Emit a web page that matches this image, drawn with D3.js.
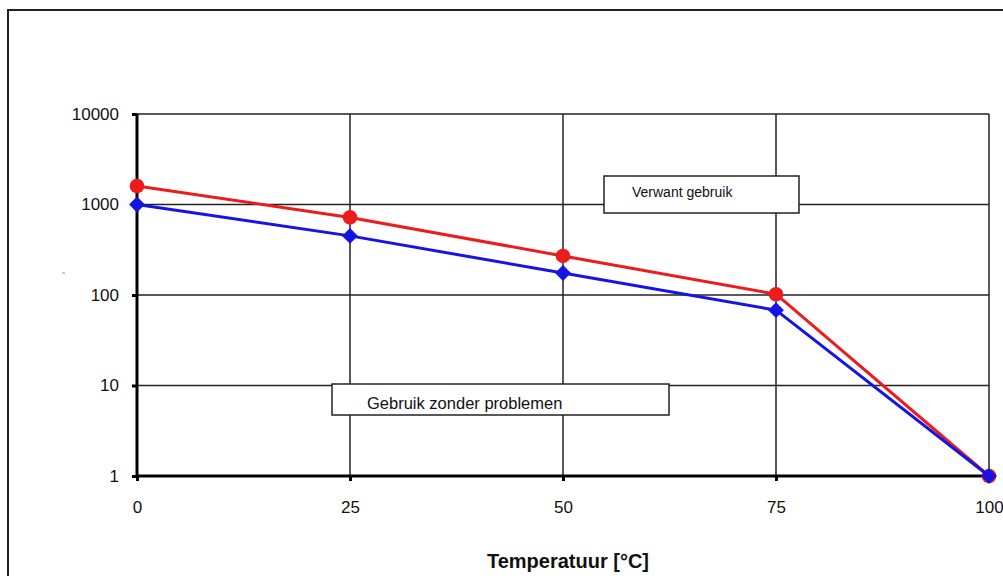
<!DOCTYPE html>
<html>
<head>
<meta charset="utf-8">
<script src="https://cdn.jsdelivr.net/npm/d3@7"></script>
<style>
  body { margin: 0; background: #fff; }
  svg { display: block; font-family: "Liberation Sans", Arial, sans-serif; }
</style>
</head>
<body>
<script>
/**Data */
const temperatures = [0, 25, 50, 75, 100];
const verwantValues = [1600, 720, 270, 102, 1];   // red circles
const zonderValues = [1000, 450, 175, 68, 1];     // blue diamonds
const xTicks = [0, 25, 50, 75, 100];
const yTicks = [1, 10, 100, 1000, 10000];
const xTitle = "Temperatuur [°C]";
const boxLabels = ["Verwant gebruik", "Gebruik zonder problemen"];

/**Layout */
const width = 1003;
const height = 576;
const plot = { left: 137, right: 989, top: 114, bottom: 476 };
const red = "#ec1c1c";
const blue = "#1414e6";

const svg = d3.select("body").append("svg")
  .attr("width", width)
  .attr("height", height);

// outer frame, runs off the right and bottom edge like the original
svg.append("rect")
  .attr("x", 8).attr("y", 10)
  .attr("width", 1010).attr("height", 600)
  .attr("fill", "#fff")
  .attr("stroke", "#222")
  .attr("stroke-width", 2);

const x = d3.scaleLinear().domain([0, 100]).range([plot.left, plot.right]);
const y = d3.scaleLog().domain([1, 10000]).range([plot.bottom, plot.top]);

// gridlines
svg.append("g")
  .selectAll("line.h")
  .data(yTicks.slice(1))
  .enter().append("line")
  .attr("x1", plot.left).attr("x2", plot.right)
  .attr("y1", d => y(d)).attr("y2", d => y(d))
  .attr("stroke", "#222").attr("stroke-width", 1.5);

svg.append("g")
  .selectAll("line.v")
  .data(xTicks.slice(1))
  .enter().append("line")
  .attr("x1", d => x(d)).attr("x2", d => x(d))
  .attr("y1", plot.top).attr("y2", plot.bottom)
  .attr("stroke", "#222").attr("stroke-width", 1.5);

// text boxes inside the plot
function labelBox(bx, by, bw, bh, tx, ty, size, txt) {
  svg.append("rect")
    .attr("x", bx).attr("y", by)
    .attr("width", bw).attr("height", bh)
    .attr("fill", "#fff")
    .attr("stroke", "#222")
    .attr("stroke-width", 1.5);
  svg.append("text")
    .attr("x", tx).attr("y", ty)
    .attr("font-size", size + "px")
    .attr("fill", "#111")
    .text(txt);
}
labelBox(604, 176, 195, 37, 632, 197, 14, boxLabels[0]);
labelBox(332, 384, 337, 31, 367, 409, 16.5, boxLabels[1]);

// axes
const xAxis = d3.axisBottom(x).tickValues(xTicks).tickSize(5).tickPadding(20)
  .tickFormat(d3.format("d"));
const yAxis = d3.axisLeft(y).tickValues(yTicks).tickSize(5).tickPadding(13)
  .tickFormat(d3.format("d"));

const gx = svg.append("g")
  .attr("transform", "translate(0," + plot.bottom + ")")
  .call(xAxis);
const gy = svg.append("g")
  .attr("transform", "translate(" + plot.left + ",0)")
  .call(yAxis);

[gx, gy].forEach(g => {
  g.select(".domain").attr("stroke", "#000").attr("stroke-width", 3);
  g.selectAll(".tick line").attr("stroke", "#000").attr("stroke-width", 3);
  g.selectAll(".tick text")
    .attr("font-family", "Liberation Sans, Arial, sans-serif")
    .attr("font-size", "17px")
    .attr("fill", "#111");
});
gx.select(".domain").attr("d", "M" + plot.left + ",0H" + plot.right);
gy.select(".domain").attr("d", "M0," + plot.top + "V" + plot.bottom);

// axis title
svg.append("text")
  .attr("x", (plot.left + plot.right) / 2 + 5)
  .attr("y", 568)
  .attr("text-anchor", "middle")
  .attr("font-size", "20px")
  .attr("font-weight", "bold")
  .attr("fill", "#111")
  .text(xTitle);

// small leftover mark where a y title used to be
svg.append("line")
  .attr("x1", 62).attr("x2", 65)
  .attr("y1", 273).attr("y2", 273)
  .attr("stroke", "#999").attr("stroke-width", 1);

// series
const line = d3.line()
  .x((d, i) => x(temperatures[i]))
  .y(d => y(d));

svg.append("path")
  .datum(verwantValues)
  .attr("d", line)
  .attr("fill", "none")
  .attr("stroke", red)
  .attr("stroke-width", 3);

svg.selectAll("circle.verwant")
  .data(verwantValues)
  .enter().append("circle")
  .attr("class", "verwant")
  .attr("cx", (d, i) => x(temperatures[i]))
  .attr("cy", d => y(d))
  .attr("r", 7.3)
  .attr("fill", red);

svg.append("path")
  .datum(zonderValues)
  .attr("d", line)
  .attr("fill", "none")
  .attr("stroke", blue)
  .attr("stroke-width", 3);

const diamond = d3.symbol().type(d3.symbolDiamond2).size(160);
svg.selectAll("path.zonder")
  .data(zonderValues)
  .enter().append("path")
  .attr("class", "zonder")
  .attr("d", diamond)
  .attr("transform", (d, i) => "translate(" + x(temperatures[i]) + "," + y(d) + ")")
  .attr("fill", blue);
</script>
</body>
</html>
